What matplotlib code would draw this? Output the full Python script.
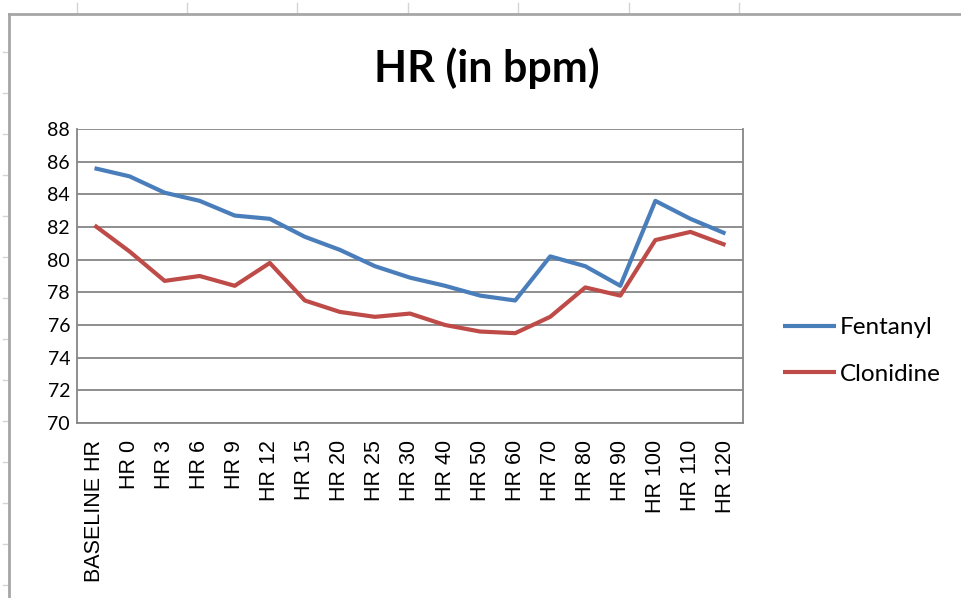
import matplotlib
matplotlib.use("Agg")
import matplotlib.pyplot as plt
from matplotlib.lines import Line2D

# data
categories = ["BASELINE HR", "HR 0", "HR 3", "HR 6", "HR 9", "HR 12", "HR 15", "HR 20",
              "HR 25", "HR 30", "HR 40", "HR 50", "HR 60", "HR 70", "HR 80", "HR 90",
              "HR 100", "HR 110", "HR 120"]
fentanyl = [85.6, 85.1, 84.1, 83.6, 82.7, 82.5, 81.4, 80.6, 79.6, 78.9, 78.4, 77.8,
            77.5, 80.2, 79.6, 78.4, 83.6, 82.5, 81.6]
clonidine = [82.1, 80.5, 78.7, 79.0, 78.4, 79.8, 77.5, 76.8, 76.5, 76.7, 76.0, 75.6,
             75.5, 76.5, 78.3, 77.8, 81.2, 81.7, 80.9]
y_ticks = list(range(70, 90, 2))

W, H = 961, 598
fig = plt.figure(figsize=(W / 100, H / 100), dpi=100)
fig.patch.set_facecolor("white")


def px(x, y):
    return x / W, 1 - y / H


# spreadsheet cell boundaries outside the chart object
for x in [77, 187, 297, 408, 518, 629, 739]:
    fig.add_artist(Line2D([px(x, 0)[0]] * 2, [px(0, 3)[1], px(0, 13)[1]], color="#d4d4d4", lw=1))
for y in range(52, 598, 41):
    fig.add_artist(Line2D([px(3, 0)[0], px(8, 0)[0]], [px(0, y)[1]] * 2, color="#d4d4d4", lw=1))
# chart object border
fig.add_artist(Line2D([px(9, 0)[0], 1], [px(0, 14)[1]] * 2, color="#a6a6a6", lw=2))
fig.add_artist(Line2D([px(9, 0)[0]] * 2, [px(0, 14)[1], 0], color="#a6a6a6", lw=2))

left, right, top, bottom = 77, 743, 129, 423
ax = fig.add_axes([left / W, 1 - bottom / H, (right - left) / W, (bottom - top) / H])

x = range(len(categories))
ax.plot(x, fentanyl, color="#4a7ebb", lw=3, label="Fentanyl", solid_capstyle="butt", zorder=3)
ax.plot(x, clonidine, color="#be4b48", lw=3, label="Clonidine", solid_capstyle="butt", zorder=3)

ax.set_xlim(-0.5, len(categories) - 0.5)
ax.set_ylim(70, 88)
ax.set_yticks(y_ticks)
ax.set_yticklabels([str(v) for v in y_ticks], fontsize=14, family="Lato")
ax.set_xticks(list(x))
ax.set_xticklabels(categories, rotation=90, fontsize=15.5, family="Liberation Sans")
ax.tick_params(axis="both", length=0)
ax.tick_params(axis="y", pad=5)
ax.tick_params(axis="x", pad=12)
ax.grid(axis="y", color="#868686", lw=1.3)
ax.set_axisbelow(True)
for s in ax.spines.values():
    s.set_color("#868686")
    s.set_linewidth(1.3)
ax.spines["top"].set_visible(False)

fig.text(487 / W, 1 - 68 / H, "HR (in bpm)", ha="center", va="center",
         fontsize=31, fontweight="bold", family="Lato")

ax.legend(loc="center left", bbox_to_anchor=(761 / W, 1 - 351 / H), bbox_transform=fig.transFigure,
          frameon=False, prop={"family": "Lato", "size": 17.5},
          handlelength=2.2, handletextpad=0.15, labelspacing=1.05)

fig.savefig("out.png", dpi=100)
